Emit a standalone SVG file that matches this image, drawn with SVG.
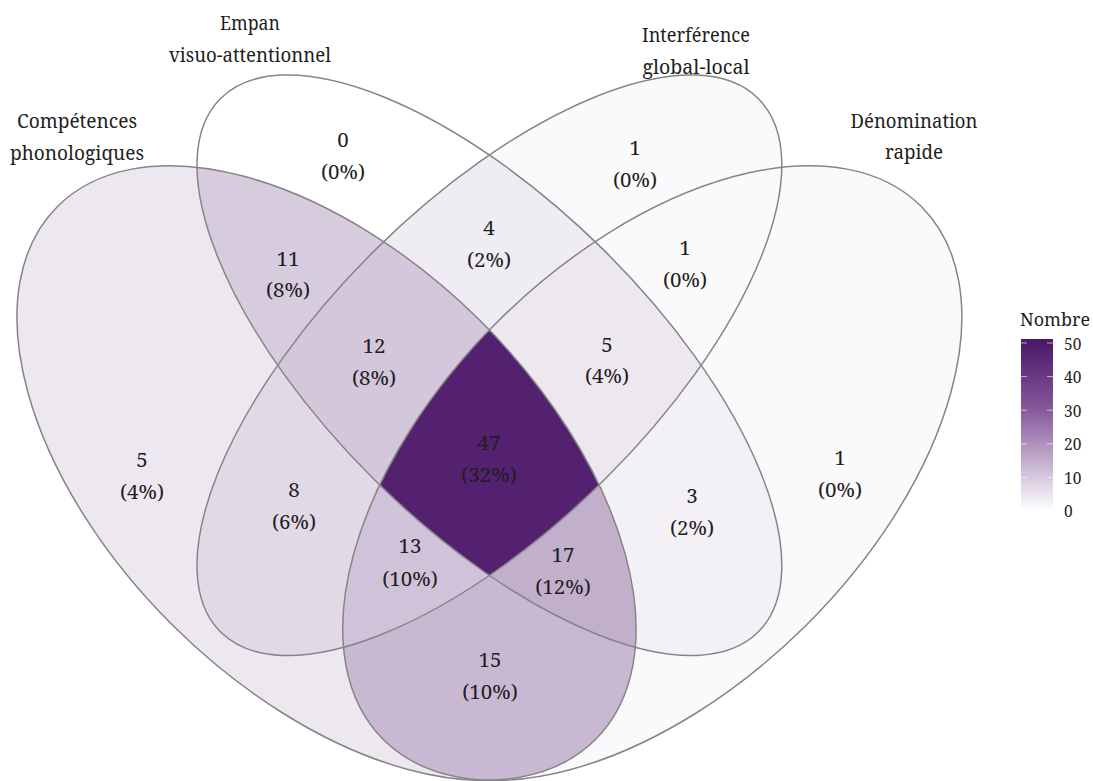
<svg xmlns="http://www.w3.org/2000/svg" xmlns:xlink="http://www.w3.org/1999/xlink" width="1093" height="781" viewBox="0 0 1093 781">
<style>
.t{font-family:'Noto Serif','DejaVu Serif',serif;font-size:20.5px;fill:#1e1e1e;text-anchor:middle}
.lg{font-family:'Noto Serif','DejaVu Serif',serif;font-size:15.5px;fill:#1e1e1e}
.edge{fill:none;stroke:#858585;stroke-width:1.5}
</style>
<defs>
<ellipse id="eA" cx="0.35" cy="0.47" rx="0.35" ry="0.2" vector-effect="non-scaling-stroke" transform="matrix(1086 0 0 -1078 -53.6 979.7) rotate(-45 0.35 0.47)"/>
<ellipse id="eB" cx="0.5" cy="0.57" rx="0.35" ry="0.15" vector-effect="non-scaling-stroke" transform="matrix(1086 0 0 -1078 -53.6 979.7) rotate(-45 0.5 0.57)"/>
<ellipse id="eC" cx="0.5" cy="0.57" rx="0.35" ry="0.15" vector-effect="non-scaling-stroke" transform="matrix(1086 0 0 -1078 -53.6 979.7) rotate(45 0.5 0.57)"/>
<ellipse id="eD" cx="0.65" cy="0.47" rx="0.35" ry="0.2" vector-effect="non-scaling-stroke" transform="matrix(1086 0 0 -1078 -53.6 979.7) rotate(45 0.65 0.47)"/>
<clipPath id="cA"><use xlink:href="#eA"/></clipPath>
<clipPath id="cB"><use xlink:href="#eB"/></clipPath>
<clipPath id="cC"><use xlink:href="#eC"/></clipPath>
<clipPath id="cD"><use xlink:href="#eD"/></clipPath>
<mask id="nA" maskUnits="userSpaceOnUse" x="0" y="0" width="1093" height="781"><rect width="1093" height="781" fill="#fff"/><use xlink:href="#eA" fill="#000"/></mask>
<mask id="nB" maskUnits="userSpaceOnUse" x="0" y="0" width="1093" height="781"><rect width="1093" height="781" fill="#fff"/><use xlink:href="#eB" fill="#000"/></mask>
<mask id="nC" maskUnits="userSpaceOnUse" x="0" y="0" width="1093" height="781"><rect width="1093" height="781" fill="#fff"/><use xlink:href="#eC" fill="#000"/></mask>
<mask id="nD" maskUnits="userSpaceOnUse" x="0" y="0" width="1093" height="781"><rect width="1093" height="781" fill="#fff"/><use xlink:href="#eD" fill="#000"/></mask>
<rect id="full" x="0" y="0" width="1093" height="781"/>
<linearGradient id="lgd" gradientUnits="userSpaceOnUse" x1="0" y1="343" x2="0" y2="511">
<stop offset="0" stop-color="#4c1a6b"/>
<stop offset="0.4" stop-color="#865a9c"/>
<stop offset="0.8" stop-color="#d7c9de"/>
<stop offset="1" stop-color="#ffffff"/>
</linearGradient>
</defs>
<rect width="1093" height="781" fill="#ffffff"/>

<g id="regions">
<g id="r-A" clip-path="url(#cA)"><g mask="url(#nB)"><g mask="url(#nC)"><g mask="url(#nD)"><use xlink:href="#full" fill="#ede8f0"/></g></g></g></g>
<g id="r-B" clip-path="url(#cB)"><g mask="url(#nA)"><g mask="url(#nC)"><g mask="url(#nD)"><use xlink:href="#full" fill="#ffffff"/></g></g></g></g>
<g id="r-C" clip-path="url(#cC)"><g mask="url(#nA)"><g mask="url(#nB)"><g mask="url(#nD)"><use xlink:href="#full" fill="#fafafc"/></g></g></g></g>
<g id="r-D" clip-path="url(#cD)"><g mask="url(#nA)"><g mask="url(#nB)"><g mask="url(#nC)"><use xlink:href="#full" fill="#fafafc"/></g></g></g></g>
<g id="r-AB" clip-path="url(#cA)"><g clip-path="url(#cB)"><g mask="url(#nC)"><g mask="url(#nD)"><use xlink:href="#full" fill="#d7cbde"/></g></g></g></g>
<g id="r-AC" clip-path="url(#cA)"><g clip-path="url(#cC)"><g mask="url(#nB)"><g mask="url(#nD)"><use xlink:href="#full" fill="#e2d9e7"/></g></g></g></g>
<g id="r-AD" clip-path="url(#cA)"><g clip-path="url(#cD)"><g mask="url(#nB)"><g mask="url(#nC)"><use xlink:href="#full" fill="#c9b8d2"/></g></g></g></g>
<g id="r-BC" clip-path="url(#cB)"><g clip-path="url(#cC)"><g mask="url(#nA)"><g mask="url(#nD)"><use xlink:href="#full" fill="#f0ecf3"/></g></g></g></g>
<g id="r-BD" clip-path="url(#cB)"><g clip-path="url(#cD)"><g mask="url(#nA)"><g mask="url(#nC)"><use xlink:href="#full" fill="#f4f1f6"/></g></g></g></g>
<g id="r-CD" clip-path="url(#cC)"><g clip-path="url(#cD)"><g mask="url(#nA)"><g mask="url(#nB)"><use xlink:href="#full" fill="#fafafc"/></g></g></g></g>
<g id="r-ABC" clip-path="url(#cA)"><g clip-path="url(#cB)"><g clip-path="url(#cC)"><g mask="url(#nD)"><use xlink:href="#full" fill="#d4c7db"/></g></g></g></g>
<g id="r-ABD" clip-path="url(#cA)"><g clip-path="url(#cB)"><g clip-path="url(#cD)"><g mask="url(#nC)"><use xlink:href="#full" fill="#c2afcc"/></g></g></g></g>
<g id="r-ACD" clip-path="url(#cA)"><g clip-path="url(#cC)"><g clip-path="url(#cD)"><g mask="url(#nB)"><use xlink:href="#full" fill="#d0c2d8"/></g></g></g></g>
<g id="r-BCD" clip-path="url(#cB)"><g clip-path="url(#cC)"><g clip-path="url(#cD)"><g mask="url(#nA)"><use xlink:href="#full" fill="#ede8f0"/></g></g></g></g>
<g id="r-ABCD" clip-path="url(#cA)"><g clip-path="url(#cB)"><g clip-path="url(#cC)"><g clip-path="url(#cD)"><use xlink:href="#full" fill="#542170"/></g></g></g></g>
</g>

<g id="set-outlines" class="edge">
<use id="set-A" xlink:href="#eA"/>
<use id="set-B" xlink:href="#eB"/>
<use id="set-C" xlink:href="#eC"/>
<use id="set-D" xlink:href="#eD"/>
</g>

<g id="set-labels">
<g id="lab-A"><text class="t" x="77" y="128" textLength="120" lengthAdjust="spacingAndGlyphs">Compétences</text><text class="t" x="77" y="160" textLength="134" lengthAdjust="spacingAndGlyphs">phonologiques</text></g>
<g id="lab-B"><text class="t" x="250" y="30" textLength="60" lengthAdjust="spacingAndGlyphs">Empan</text><text class="t" x="250" y="62" textLength="162" lengthAdjust="spacingAndGlyphs">visuo-attentionnel</text></g>
<g id="lab-C"><text class="t" x="696" y="42" textLength="108" lengthAdjust="spacingAndGlyphs">Interférence</text><text class="t" x="696" y="74" textLength="107" lengthAdjust="spacingAndGlyphs">global-local</text></g>
<g id="lab-D"><text class="t" x="914" y="128" textLength="127" lengthAdjust="spacingAndGlyphs">Dénomination</text><text class="t" x="914" y="159" textLength="58" lengthAdjust="spacingAndGlyphs">rapide</text></g>
</g>

<g id="counts">
<g id="n-B"><text class="t" x="343" y="147">0</text><text class="t" x="343" y="179">(0%)</text></g>
<g id="n-C"><text class="t" x="635" y="155">1</text><text class="t" x="635" y="187">(0%)</text></g>
<g id="n-AB"><text class="t" x="288" y="266">11</text><text class="t" x="288" y="297">(8%)</text></g>
<g id="n-BC"><text class="t" x="489" y="235">4</text><text class="t" x="489" y="267">(2%)</text></g>
<g id="n-CD"><text class="t" x="685" y="255">1</text><text class="t" x="685" y="287">(0%)</text></g>
<g id="n-ABC"><text class="t" x="374" y="353">12</text><text class="t" x="374" y="385">(8%)</text></g>
<g id="n-BCD"><text class="t" x="607" y="352">5</text><text class="t" x="607" y="383">(4%)</text></g>
<g id="n-ABCD"><text class="t" x="489" y="450">47</text><text class="t" x="489" y="482">(32%)</text></g>
<g id="n-A"><text class="t" x="142" y="467">5</text><text class="t" x="142" y="499">(4%)</text></g>
<g id="n-AC"><text class="t" x="294" y="497">8</text><text class="t" x="294" y="529">(6%)</text></g>
<g id="n-BD"><text class="t" x="692" y="503">3</text><text class="t" x="692" y="535">(2%)</text></g>
<g id="n-D"><text class="t" x="840" y="465">1</text><text class="t" x="840" y="497">(0%)</text></g>
<g id="n-ACD"><text class="t" x="410" y="553">13</text><text class="t" x="410" y="586">(10%)</text></g>
<g id="n-ABD"><text class="t" x="563" y="562">17</text><text class="t" x="563" y="594">(12%)</text></g>
<g id="n-AD"><text class="t" x="490" y="667">15</text><text class="t" x="490" y="699">(10%)</text></g>
</g>

<g id="legend">
<text x="1020" y="326" font-family="Noto Serif, DejaVu Serif, serif" font-size="18" fill="#1e1e1e" textLength="70" lengthAdjust="spacingAndGlyphs">Nombre</text>
<rect x="1021" y="339" width="32" height="176" fill="url(#lgd)"/>
<g stroke="#ffffff" stroke-opacity="0.6" stroke-width="1">
<line x1="1021" y1="343" x2="1027" y2="343"/><line x1="1047" y1="343" x2="1053" y2="343"/>
<line x1="1021" y1="376.6" x2="1027" y2="376.6"/><line x1="1047" y1="376.6" x2="1053" y2="376.6"/>
<line x1="1021" y1="410.2" x2="1027" y2="410.2"/><line x1="1047" y1="410.2" x2="1053" y2="410.2"/>
<line x1="1021" y1="443.8" x2="1027" y2="443.8"/><line x1="1047" y1="443.8" x2="1053" y2="443.8"/>
<line x1="1021" y1="477.4" x2="1027" y2="477.4"/><line x1="1047" y1="477.4" x2="1053" y2="477.4"/>
</g>
<g>
<text class="lg" x="1064" y="349.5">50</text>
<text class="lg" x="1064" y="383">40</text>
<text class="lg" x="1064" y="416.5">30</text>
<text class="lg" x="1064" y="450">20</text>
<text class="lg" x="1064" y="483.5">10</text>
<text class="lg" x="1064" y="517">0</text>
</g>
</g>
</svg>
